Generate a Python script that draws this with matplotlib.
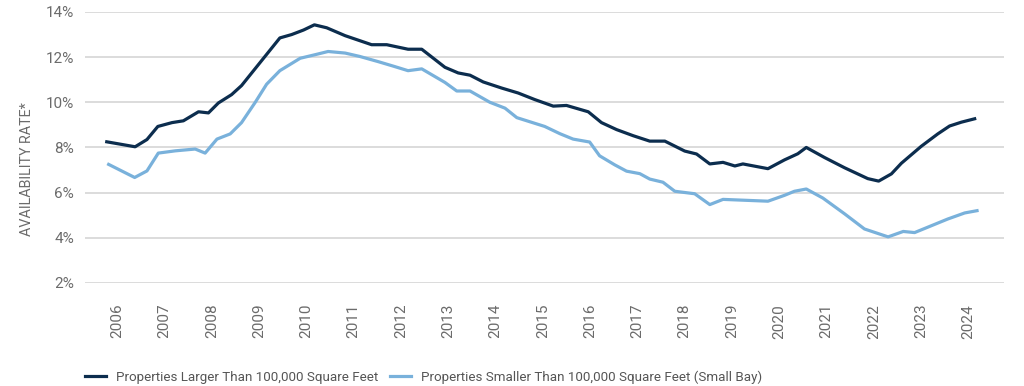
import matplotlib
matplotlib.use("Agg")
import matplotlib.pyplot as plt
from matplotlib.ticker import FuncFormatter

plt.rcParams['font.family'] = ['Roboto', 'DejaVu Sans']

# availability rate (decimal year, percent)
large_x = [2005.78, 2006.38, 2006.63, 2006.86, 2007.16, 2007.40, 2007.72, 2007.93,
           2008.14, 2008.42, 2008.63, 2009.44, 2009.69, 2009.94, 2010.17, 2010.43,
           2010.82, 2011.10, 2011.38, 2011.70, 2012.15, 2012.44, 2012.93, 2013.21,
           2013.46, 2013.74, 2014.13, 2014.48, 2014.83, 2015.22, 2015.50, 2015.96,
           2016.24, 2016.56, 2016.91, 2017.26, 2017.58, 2018.00, 2018.25, 2018.53,
           2018.81, 2019.06, 2019.23, 2019.76, 2020.11, 2020.39, 2020.57, 2020.96,
           2021.38, 2021.87, 2022.10, 2022.37, 2022.58, 2023.00, 2023.35, 2023.60,
           2023.85, 2024.13]
large_y = [8.25, 8.03, 8.35, 8.93, 9.10, 9.18, 9.58, 9.53,
           9.97, 10.34, 10.74, 12.85, 13.00, 13.20, 13.43, 13.30,
           12.95, 12.75, 12.55, 12.55, 12.35, 12.35, 11.55, 11.30,
           11.20, 10.90, 10.63, 10.41, 10.12, 9.83, 9.86, 9.58,
           9.10, 8.79, 8.52, 8.28, 8.28, 7.84, 7.71, 7.27,
           7.34, 7.18, 7.27, 7.06, 7.45, 7.72, 8.00, 7.55,
           7.10, 6.62, 6.51, 6.83, 7.30, 8.05, 8.60, 8.95,
           9.12, 9.27]

small_x = [2005.82, 2006.37, 2006.63, 2006.87, 2007.23, 2007.65, 2007.86, 2008.11,
           2008.39, 2008.63, 2008.92, 2009.16, 2009.44, 2009.87, 2010.17, 2010.46,
           2010.82, 2011.13, 2011.52, 2011.84, 2012.15, 2012.44, 2012.93, 2013.18,
           2013.46, 2013.88, 2014.20, 2014.45, 2015.04, 2015.36, 2015.64, 2015.99,
           2016.20, 2016.52, 2016.77, 2017.05, 2017.26, 2017.54, 2017.79, 2018.21,
           2018.53, 2018.81, 2019.76, 2020.11, 2020.32, 2020.57, 2020.92, 2021.38,
           2021.80, 2022.30, 2022.62, 2022.86, 2023.21, 2023.56, 2023.92, 2024.18]
small_y = [7.25, 6.67, 6.96, 7.75, 7.85, 7.93, 7.75, 8.37,
           8.60, 9.10, 10.00, 10.80, 11.40, 11.95, 12.10, 12.25,
           12.18, 12.03, 11.80, 11.60, 11.40, 11.48, 10.88, 10.50,
           10.50, 10.00, 9.74, 9.32, 8.93, 8.61, 8.37, 8.24,
           7.63, 7.23, 6.95, 6.84, 6.60, 6.46, 6.06, 5.95,
           5.47, 5.70, 5.62, 5.88, 6.06, 6.16, 5.76, 5.06,
           4.39, 4.04, 4.28, 4.23, 4.53, 4.83, 5.10, 5.20]

years = list(range(2006, 2025))
y_ticks = [2, 4, 6, 8, 10, 12, 14]

dark = "#0c2d4e"
light = "#79b1db"
grey = "#6b6b6b"

fig = plt.figure(figsize=(10.24, 3.86), dpi=100)
ax = fig.add_axes([0.083, 0.267, 0.897, 0.702])

l1, = ax.plot(large_x, large_y, color=dark, lw=2.3,
              label="Properties Larger Than 100,000 Square Feet")
l2, = ax.plot(small_x, small_y, color=light, lw=2.3,
              label="Properties Smaller Than 100,000 Square Feet (Small Bay)")

ax.set_xlim(2005.32, 2024.74)
ax.set_ylim(2, 14)
ax.set_yticks(y_ticks)
ax.yaxis.set_major_formatter(FuncFormatter(lambda v, p: f"{int(v)}%"))
ax.set_xticks(years)
ax.set_xticklabels([str(y) for y in years], rotation=90)
ax.tick_params(axis="both", length=0, colors=grey, labelsize=11)
ax.tick_params(axis="x", pad=15)
ax.tick_params(axis="y", pad=8)
ax.grid(axis="y", color="#d9d9d9", lw=1.3)
ax.set_axisbelow(True)
for s in ax.spines.values():
    s.set_visible(False)

fig.text(27 / 1024, 1 - 169 / 386, "AVAILABILITY RATE*", rotation=90,
         ha="center", va="center", color=grey, fontsize=10.3)

leg_kw = dict(loc="center left", frameon=False, fontsize=9.6, labelcolor="#555555",
              handlelength=1.6, handletextpad=0.7, borderpad=0, borderaxespad=0)
fig.legend(handles=[l1], bbox_to_anchor=(85 / 1024, 1 - 377 / 386), **leg_kw)
fig.legend(handles=[l2], bbox_to_anchor=(390 / 1024, 1 - 377 / 386), **leg_kw)

fig.savefig("out.png", dpi=100)
